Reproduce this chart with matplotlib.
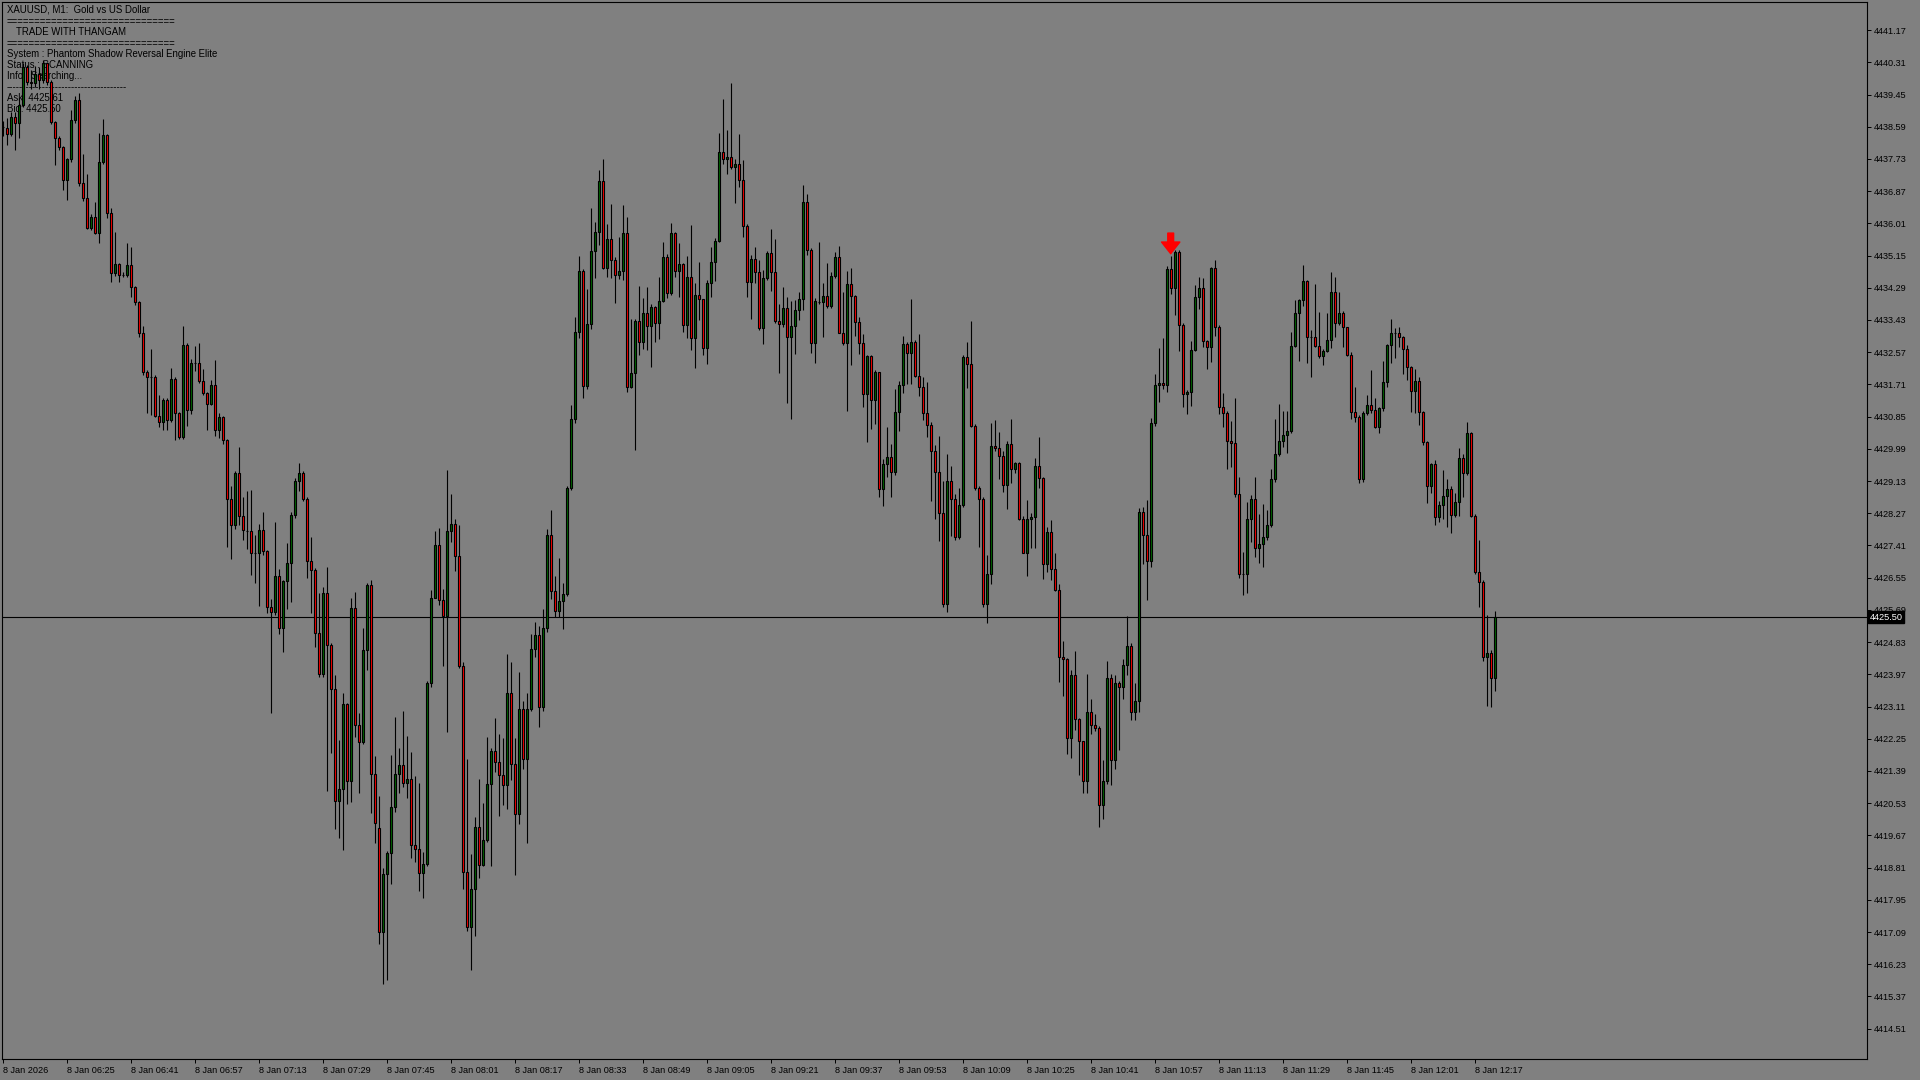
import matplotlib
matplotlib.use("Agg")
import matplotlib.pyplot as plt

plt.rcParams['font.family'] = ['Liberation Sans', 'DejaVu Sans']

# XAUUSD M1, 8 Jan 2026, one candle per minute from 06:09
opens = [4438.59, 4438.55, 4438.39, 4438.84, 4438.68, 4439.17, 4440.19, 4439.79, 4439.77, 4440.01,
         4439.84, 4440.28, 4439.79, 4438.72, 4438.28, 4438.05, 4437.17, 4437.72, 4438.77, 4439.30,
         4437.08, 4436.68, 4435.88, 4436.19, 4435.76, 4437.65, 4438.37, 4436.29, 4434.68, 4434.92,
         4434.63, 4434.63, 4434.90, 4434.30, 4433.92, 4433.07, 4432.05, 4431.91, 4431.91, 4430.87,
         4430.71, 4431.29, 4430.76, 4431.85, 4430.94, 4430.31, 4432.76, 4431.03, 4432.27, 4432.27,
         4431.81, 4431.49, 4431.20, 4431.69, 4430.49, 4430.83, 4430.22, 4428.64, 4427.96, 4429.34,
         4428.20, 4427.80, 4427.80, 4427.22, 4427.22, 4427.82, 4427.27, 4425.76, 4425.64, 4426.59,
         4425.20, 4426.46, 4426.93, 4428.22, 4429.13, 4429.34, 4428.64, 4427.00, 4426.75, 4425.08,
         4423.98, 4426.15, 4424.75, 4423.57, 4420.60, 4420.92, 4423.18, 4421.11, 4425.75, 4422.63,
         4422.16, 4424.61, 4426.35, 4421.32, 4419.87, 4417.09, 4418.65, 4419.19, 4420.42, 4421.32,
         4421.55, 4421.06, 4421.18, 4419.41, 4419.30, 4418.67, 4418.90, 4423.75, 4426.02, 4427.41,
         4425.95, 4425.52, 4427.79, 4427.98, 4427.14, 4424.19, 4418.70, 4417.23, 4418.24, 4419.89,
         4418.88, 4419.55, 4421.04, 4421.91, 4421.64, 4421.27, 4421.02, 4423.48, 4421.57, 4420.24,
         4423.04, 4421.71, 4423.04, 4424.65, 4425.02, 4423.10, 4425.20, 4427.69, 4426.19, 4425.67,
         4425.94, 4426.12, 4428.94, 4430.78, 4433.11, 4434.74, 4431.68, 4433.31, 4435.27, 4435.78,
         4437.13, 4434.83, 4435.59, 4435.02, 4434.62, 4434.75, 4435.76, 4431.65, 4432.01, 4433.39,
         4432.84, 4433.61, 4433.27, 4433.77, 4433.34, 4433.94, 4435.12, 4434.16, 4435.74, 4434.74,
         4434.92, 4433.29, 4434.57, 4432.94, 4434.09, 4433.98, 4432.67, 4434.41, 4434.97, 4435.54,
         4437.91, 4437.72, 4437.77, 4437.52, 4437.59, 4437.18, 4435.95, 4434.45, 4435.07, 4434.72,
         4433.21, 4434.54, 4435.23, 4434.72, 4433.41, 4433.31, 4433.74, 4432.97, 4433.28, 4433.70,
         4433.98, 4436.57, 4435.30, 4432.81, 4433.92, 4433.92, 4434.07, 4433.80, 4434.61, 4435.12,
         4433.09, 4432.82, 4434.39, 4434.08, 4433.38, 4432.81, 4431.45, 4432.48, 4431.29, 4432.03,
         4428.91, 4429.58, 4429.76, 4429.38, 4430.98, 4431.69, 4432.79, 4432.54, 4432.83, 4431.94,
         4431.65, 4430.95, 4430.64, 4429.94, 4429.38, 4428.28, 4425.84, 4429.13, 4428.64, 4427.63,
         4428.48, 4432.43, 4432.25, 4430.60, 4428.94, 4428.64, 4425.84, 4426.64, 4430.07, 4430.02,
         4429.80, 4429.02, 4430.11, 4429.44, 4429.62, 4428.13, 4427.22, 4428.11, 4428.16, 4429.53,
         4429.20, 4426.91, 4427.76, 4426.79, 4426.23, 4424.43, 4424.38, 4422.27, 4423.96, 4422.78,
         4422.18, 4421.13, 4422.96, 4422.61, 4422.54, 4420.48, 4421.13, 4423.87, 4421.69, 4423.75,
         4423.62, 4424.22, 4424.72, 4422.96, 4423.27, 4428.31, 4427.68, 4427.00, 4430.69, 4431.69,
         4431.75, 4431.69, 4434.78, 4434.28, 4435.25, 4433.30, 4431.45, 4431.50, 4432.64, 4434.04,
         4434.28, 4432.88, 4432.70, 4434.81, 4433.23, 4431.12, 4430.95, 4430.21, 4430.14, 4428.78,
         4426.64, 4426.66, 4428.11, 4428.64, 4427.33, 4427.45, 4427.63, 4427.95, 4429.18, 4429.85,
         4430.20, 4430.37, 4430.46, 4432.73, 4433.63, 4433.96, 4434.47, 4432.98, 4432.98, 4432.74,
         4432.48, 4432.60, 4432.89, 4434.17, 4433.34, 4433.63, 4433.23, 4432.49, 4430.98, 4430.83,
         4429.18, 4430.96, 4431.15, 4431.02, 4430.58, 4431.07, 4431.77, 4432.75, 4433.09, 4433.09,
         4432.97, 4432.65, 4432.18, 4431.54, 4431.81, 4430.98, 4430.18, 4429.00, 4429.58, 4428.16,
         4428.49, 4428.73, 4428.92, 4428.22, 4428.58, 4429.74, 4429.35, 4430.40, 4428.20, 4426.69,
         4426.43, 4424.42, 4424.53, 4423.86]
highs = [4438.75, 4438.81, 4438.99, 4438.99, 4439.35, 4440.28, 4440.25, 4440.10, 4440.20, 4440.19,
         4440.37, 4440.32, 4439.85, 4438.75, 4438.33, 4438.08, 4437.75, 4439.03, 4439.41, 4439.50,
         4437.86, 4437.33, 4436.25, 4436.59, 4438.41, 4438.79, 4438.40, 4436.41, 4435.79, 4434.95,
         4434.70, 4435.49, 4435.39, 4434.33, 4433.95, 4433.27, 4432.10, 4432.65, 4431.95, 4431.43,
         4431.35, 4431.35, 4432.14, 4431.90, 4430.98, 4433.27, 4432.82, 4432.38, 4432.73, 4432.82,
         4432.11, 4431.52, 4431.83, 4432.36, 4430.94, 4430.88, 4430.25, 4429.00, 4429.40, 4430.05,
         4428.71, 4428.87, 4428.89, 4427.69, 4427.98, 4428.31, 4427.30, 4425.97, 4428.04, 4426.77,
         4426.50, 4427.47, 4428.30, 4429.20, 4429.60, 4429.40, 4428.70, 4427.63, 4426.80, 4426.13,
         4426.31, 4426.84, 4424.80, 4423.96, 4422.22, 4423.48, 4423.20, 4426.01, 4426.17, 4422.93,
         4425.20, 4426.40, 4426.49, 4421.80, 4420.72, 4418.79, 4419.25, 4421.82, 4422.83, 4421.99,
         4423.00, 4422.33, 4421.90, 4421.25, 4421.06, 4419.22, 4423.80, 4426.21, 4427.79, 4427.89,
         4426.26, 4429.42, 4428.78, 4428.12, 4427.96, 4424.30, 4421.70, 4419.16, 4420.17, 4421.18,
         4420.53, 4422.31, 4422.00, 4422.81, 4422.38, 4422.28, 4424.52, 4424.29, 4422.26, 4424.02,
         4423.25, 4423.46, 4425.06, 4425.37, 4425.25, 4425.72, 4427.84, 4428.35, 4426.59, 4427.08,
         4426.40, 4429.00, 4431.15, 4433.52, 4435.15, 4434.80, 4434.25, 4436.42, 4436.05, 4437.44,
         4437.72, 4436.00, 4436.54, 4435.10, 4435.64, 4436.49, 4436.18, 4433.45, 4433.45, 4434.34,
         4434.01, 4434.30, 4433.87, 4433.81, 4434.57, 4435.52, 4435.20, 4436.01, 4435.78, 4435.48,
         4434.95, 4435.14, 4435.97, 4434.41, 4434.97, 4434.00, 4434.50, 4435.39, 4435.63, 4438.43,
         4439.33, 4438.50, 4439.75, 4437.72, 4438.39, 4437.70, 4436.00, 4435.16, 4435.39, 4435.03,
         4434.76, 4435.28, 4435.86, 4435.58, 4433.86, 4434.30, 4434.04, 4433.94, 4433.96, 4434.18,
         4437.03, 4436.79, 4435.35, 4434.01, 4435.50, 4434.41, 4434.94, 4434.70, 4435.25, 4435.40,
         4434.19, 4434.75, 4434.81, 4434.10, 4433.50, 4433.05, 4432.50, 4432.50, 4432.10, 4432.05,
         4429.71, 4430.58, 4430.12, 4431.59, 4431.80, 4433.00, 4432.85, 4433.99, 4432.90, 4433.06,
         4431.92, 4431.77, 4430.70, 4430.09, 4430.33, 4429.14, 4429.85, 4429.53, 4428.78, 4428.95,
         4432.49, 4432.85, 4433.40, 4430.65, 4429.00, 4428.70, 4427.15, 4430.69, 4430.76, 4430.45,
         4429.94, 4430.20, 4430.78, 4429.65, 4429.65, 4428.20, 4428.62, 4428.29, 4429.74, 4430.30,
         4429.25, 4427.90, 4428.08, 4427.21, 4426.39, 4424.86, 4424.40, 4424.09, 4424.59, 4422.80,
         4422.20, 4423.98, 4423.31, 4422.90, 4422.60, 4421.69, 4424.33, 4423.97, 4423.96, 4423.80,
         4424.38, 4425.54, 4424.80, 4423.73, 4428.41, 4428.44, 4428.62, 4430.82, 4431.98, 4432.67,
         4432.95, 4434.88, 4435.15, 4435.30, 4435.30, 4433.35, 4431.55, 4432.88, 4434.36, 4434.57,
         4434.54, 4432.90, 4434.85, 4435.04, 4433.30, 4431.47, 4431.00, 4430.74, 4431.34, 4429.23,
         4427.24, 4428.58, 4428.76, 4429.25, 4428.25, 4428.53, 4428.37, 4429.45, 4430.78, 4431.19,
         4430.99, 4430.99, 4433.12, 4433.96, 4434.00, 4434.90, 4434.50, 4433.16, 4434.39, 4433.65,
         4432.65, 4433.62, 4434.71, 4434.57, 4434.18, 4433.66, 4433.25, 4432.58, 4431.63, 4430.90,
         4431.00, 4431.44, 4432.09, 4431.34, 4431.10, 4432.34, 4432.80, 4433.47, 4433.21, 4433.25,
         4433.00, 4432.76, 4432.20, 4432.11, 4431.90, 4431.00, 4430.20, 4429.60, 4429.69, 4428.60,
         4429.42, 4429.18, 4429.00, 4428.80, 4430.00, 4429.85, 4430.71, 4430.45, 4428.25, 4427.56,
         4426.50, 4425.55, 4424.62, 4425.67]
lows = [4438.35, 4438.10, 4438.34, 4437.97, 4438.28, 4439.12, 4439.70, 4439.61, 4439.65, 4439.61,
        4439.75, 4439.70, 4438.65, 4437.57, 4437.98, 4436.90, 4436.63, 4437.65, 4438.70, 4437.00,
        4436.60, 4435.85, 4435.82, 4435.72, 4435.49, 4437.60, 4436.14, 4434.45, 4434.60, 4434.45,
        4434.58, 4434.58, 4434.05, 4433.83, 4432.98, 4431.96, 4430.94, 4430.89, 4430.85, 4430.58,
        4430.49, 4430.49, 4430.70, 4430.22, 4430.25, 4430.25, 4430.60, 4430.92, 4432.08, 4431.74,
        4431.43, 4430.49, 4431.15, 4430.33, 4430.27, 4430.12, 4427.38, 4427.04, 4427.85, 4427.96,
        4427.56, 4427.31, 4426.62, 4426.41, 4425.79, 4427.15, 4425.61, 4422.93, 4425.55, 4425.06,
        4424.57, 4425.72, 4425.91, 4428.15, 4428.87, 4428.60, 4426.53, 4425.62, 4424.71, 4423.90,
        4423.90, 4420.86, 4421.87, 4419.85, 4419.60, 4419.29, 4420.50, 4420.55, 4422.31, 4420.81,
        4422.10, 4424.09, 4420.27, 4419.48, 4416.77, 4415.71, 4415.82, 4418.36, 4420.30, 4420.81,
        4420.97, 4420.67, 4419.07, 4418.95, 4418.19, 4418.01, 4418.85, 4423.62, 4426.00, 4425.82,
        4424.18, 4422.42, 4427.49, 4426.72, 4424.15, 4418.24, 4417.11, 4416.08, 4416.99, 4418.53,
        4418.85, 4419.50, 4418.84, 4421.36, 4420.20, 4420.47, 4420.38, 4421.16, 4418.60, 4419.97,
        4421.44, 4419.48, 4423.00, 4424.42, 4422.57, 4423.00, 4425.10, 4425.97, 4425.49, 4425.49,
        4425.18, 4426.05, 4428.90, 4430.69, 4432.96, 4431.35, 4431.60, 4433.20, 4434.56, 4435.44,
        4434.80, 4434.58, 4434.56, 4433.88, 4434.53, 4434.50, 4431.52, 4431.61, 4429.96, 4432.50,
        4432.66, 4432.63, 4432.18, 4432.85, 4432.91, 4433.90, 4434.02, 4434.10, 4434.57, 4434.05,
        4433.12, 4432.96, 4432.63, 4432.14, 4433.43, 4432.49, 4432.25, 4434.05, 4434.48, 4435.50,
        4437.59, 4437.34, 4437.45, 4436.56, 4436.99, 4435.65, 4434.05, 4433.47, 4434.41, 4433.16,
        4432.79, 4434.50, 4434.21, 4433.35, 4432.02, 4433.25, 4431.22, 4430.78, 4432.51, 4433.43,
        4433.70, 4435.16, 4432.54, 4432.27, 4433.87, 4432.98, 4433.74, 4433.74, 4434.54, 4433.07,
        4432.75, 4431.01, 4432.23, 4432.99, 4432.52, 4431.10, 4430.18, 4430.52, 4430.65, 4428.70,
        4428.47, 4429.25, 4428.71, 4429.30, 4430.46, 4431.47, 4431.71, 4431.71, 4431.90, 4431.41,
        4430.76, 4430.31, 4428.61, 4428.13, 4427.54, 4425.78, 4425.64, 4427.66, 4427.55, 4427.58,
        4428.44, 4431.62, 4430.56, 4428.90, 4427.36, 4425.78, 4425.35, 4426.38, 4429.94, 4429.18,
        4428.85, 4428.38, 4429.07, 4429.35, 4428.09, 4427.20, 4426.60, 4427.33, 4427.33, 4428.94,
        4426.51, 4426.71, 4426.49, 4426.20, 4423.77, 4423.38, 4421.85, 4421.74, 4422.48, 4421.27,
        4420.79, 4420.79, 4422.38, 4422.45, 4419.89, 4420.11, 4421.05, 4421.02, 4421.45, 4421.95,
        4423.30, 4423.96, 4422.75, 4422.75, 4422.96, 4426.91, 4425.96, 4426.83, 4430.60, 4431.24,
        4431.60, 4431.51, 4434.12, 4433.56, 4432.61, 4431.12, 4430.93, 4431.14, 4432.60, 4433.72,
        4432.72, 4432.11, 4432.32, 4433.01, 4430.91, 4430.56, 4429.45, 4429.50, 4428.70, 4426.53,
        4426.09, 4426.13, 4427.51, 4427.11, 4426.93, 4426.84, 4427.55, 4427.90, 4429.10, 4429.80,
        4430.03, 4429.89, 4430.40, 4432.70, 4432.34, 4433.80, 4432.27, 4431.90, 4432.70, 4432.41,
        4432.23, 4432.57, 4432.67, 4432.98, 4433.30, 4432.70, 4432.47, 4430.78, 4430.71, 4429.09,
        4429.10, 4430.90, 4430.95, 4430.55, 4430.42, 4431.00, 4431.63, 4432.27, 4432.41, 4432.72,
        4431.99, 4431.83, 4430.98, 4430.95, 4430.63, 4430.09, 4428.54, 4428.80, 4427.96, 4428.05,
        4428.13, 4427.91, 4427.73, 4428.18, 4428.20, 4428.70, 4429.30, 4428.18, 4426.66, 4425.76,
        4424.33, 4423.13, 4423.09, 4423.53]
closes = [4438.59, 4438.39, 4438.84, 4438.68, 4439.17, 4440.19, 4439.79, 4439.77, 4440.01, 4439.84,
          4440.28, 4439.79, 4438.72, 4438.28, 4438.05, 4437.17, 4437.72, 4438.77, 4439.30, 4437.08,
          4436.68, 4435.88, 4436.19, 4435.76, 4437.65, 4438.37, 4436.29, 4434.68, 4434.92, 4434.63,
          4434.63, 4434.90, 4434.30, 4433.92, 4433.07, 4432.05, 4431.90, 4431.91, 4430.87, 4430.71,
          4431.29, 4430.76, 4431.85, 4430.94, 4430.31, 4432.76, 4431.03, 4432.27, 4432.27, 4431.81,
          4431.49, 4431.20, 4431.69, 4430.49, 4430.83, 4430.22, 4428.64, 4427.96, 4429.34, 4428.20,
          4427.82, 4427.80, 4427.22, 4427.22, 4427.82, 4427.27, 4425.76, 4425.64, 4426.59, 4425.20,
          4426.46, 4426.93, 4428.22, 4429.13, 4429.34, 4428.64, 4427.00, 4426.75, 4425.08, 4423.98,
          4426.15, 4424.75, 4423.57, 4420.60, 4420.92, 4423.18, 4421.11, 4425.75, 4422.63, 4422.16,
          4424.61, 4426.35, 4421.32, 4420.00, 4417.09, 4418.65, 4419.19, 4420.42, 4421.32, 4421.55,
          4421.06, 4421.18, 4419.41, 4419.30, 4418.67, 4418.90, 4423.75, 4426.02, 4427.41, 4425.95,
          4425.52, 4427.79, 4427.98, 4427.14, 4424.19, 4418.70, 4417.23, 4418.24, 4419.89, 4418.88,
          4419.55, 4421.04, 4421.91, 4421.64, 4421.27, 4421.02, 4423.48, 4421.57, 4420.24, 4423.04,
          4421.71, 4423.04, 4424.65, 4425.02, 4423.10, 4425.20, 4427.69, 4426.19, 4425.67, 4425.94,
          4426.12, 4428.94, 4430.78, 4433.11, 4434.74, 4431.68, 4433.31, 4435.27, 4435.78, 4437.13,
          4434.83, 4435.59, 4435.02, 4434.62, 4434.75, 4435.76, 4431.65, 4432.01, 4433.39, 4432.84,
          4433.61, 4433.27, 4433.77, 4433.34, 4433.94, 4435.12, 4434.16, 4435.74, 4434.74, 4434.92,
          4433.29, 4434.57, 4432.94, 4434.09, 4433.98, 4432.67, 4434.41, 4434.97, 4435.54, 4437.91,
          4437.72, 4437.77, 4437.52, 4437.59, 4437.18, 4435.95, 4434.45, 4435.07, 4434.72, 4433.21,
          4434.54, 4435.23, 4434.72, 4433.41, 4433.31, 4433.74, 4432.97, 4433.28, 4433.70, 4433.98,
          4436.57, 4435.30, 4432.81, 4433.94, 4433.92, 4434.07, 4433.80, 4434.61, 4435.12, 4433.09,
          4432.82, 4434.39, 4434.08, 4433.38, 4432.81, 4431.45, 4432.48, 4431.29, 4432.03, 4428.91,
          4429.58, 4429.76, 4429.38, 4430.98, 4431.69, 4432.79, 4432.54, 4432.83, 4431.94, 4431.65,
          4430.95, 4430.64, 4429.94, 4429.38, 4428.28, 4425.84, 4429.13, 4428.64, 4427.63, 4428.48,
          4432.43, 4432.25, 4430.60, 4428.94, 4428.64, 4425.84, 4426.64, 4430.07, 4430.02, 4429.80,
          4429.02, 4430.11, 4429.44, 4429.62, 4428.13, 4427.22, 4428.11, 4428.16, 4429.53, 4429.20,
          4426.91, 4427.76, 4426.79, 4426.23, 4424.43, 4424.38, 4422.27, 4423.96, 4422.78, 4422.18,
          4421.13, 4422.96, 4422.61, 4422.54, 4420.48, 4421.13, 4423.87, 4421.69, 4423.75, 4423.62,
          4424.22, 4424.72, 4422.96, 4423.27, 4428.31, 4427.68, 4427.00, 4430.69, 4431.69, 4431.75,
          4431.69, 4434.78, 4434.28, 4435.25, 4433.30, 4431.45, 4431.50, 4432.64, 4434.04, 4434.28,
          4432.88, 4432.70, 4434.81, 4433.23, 4431.12, 4430.95, 4430.21, 4430.14, 4428.78, 4426.64,
          4426.66, 4428.11, 4428.64, 4427.33, 4427.45, 4427.63, 4427.95, 4429.18, 4429.85, 4430.20,
          4430.37, 4430.46, 4432.73, 4433.63, 4433.96, 4434.47, 4432.98, 4432.98, 4432.74, 4432.48,
          4432.60, 4432.89, 4434.17, 4433.34, 4433.63, 4433.23, 4432.49, 4430.98, 4430.83, 4429.18,
          4430.96, 4431.15, 4431.02, 4430.58, 4431.07, 4431.77, 4432.75, 4433.07, 4433.09, 4432.97,
          4432.65, 4432.18, 4431.54, 4431.81, 4430.98, 4430.18, 4429.00, 4429.58, 4428.16, 4428.49,
          4428.73, 4428.92, 4428.22, 4428.58, 4429.74, 4429.35, 4430.40, 4428.20, 4426.69, 4426.43,
          4424.42, 4424.53, 4423.86, 4425.51]

price_ticks = [4441.17, 4440.31, 4439.45, 4438.59, 4437.73, 4436.87, 4436.01, 4435.15,
               4434.29, 4433.43, 4432.57, 4431.71, 4430.85, 4429.99, 4429.13, 4428.27,
               4427.41, 4426.55, 4425.69, 4424.83, 4423.97, 4423.11, 4422.25, 4421.39,
               4420.53, 4419.67, 4418.81, 4417.95, 4417.09, 4416.23, 4415.37, 4414.51]
time_tick_idx = [0, 16, 32, 48, 64, 80, 96, 112, 128, 144, 160, 176,
                 192, 208, 224, 240, 256, 272, 288, 304, 320, 336, 352, 368]
time_labels = ["8 Jan 2026", "8 Jan 06:25", "8 Jan 06:41", "8 Jan 06:57", "8 Jan 07:13",
               "8 Jan 07:29", "8 Jan 07:45", "8 Jan 08:01", "8 Jan 08:17", "8 Jan 08:33",
               "8 Jan 08:49", "8 Jan 09:05", "8 Jan 09:21", "8 Jan 09:37", "8 Jan 09:53",
               "8 Jan 10:09", "8 Jan 10:25", "8 Jan 10:41", "8 Jan 10:57", "8 Jan 11:13",
               "8 Jan 11:29", "8 Jan 11:45", "8 Jan 12:01", "8 Jan 12:17"]
bid = 4425.50
ask = 4425.61
signal_idx = 292
signal_price = 4435.20

info_lines = ["XAUUSD, M1:  Gold vs US Dollar",
              "==============================",
              "TRADE WITH THANGAM",
              "==============================",
              "System : Phantom Shadow Reversal Engine Elite",
              "Status : SCANNING",
              "Info : Searching...",
              "-------------------------------------",
              "Ask: %.2f" % ask,
              "Bid: %.2f" % bid]

bg = "#808080"
up_col = "#006400"
dn_col = "#ff0000"

W, H = 1920, 1080
fig = plt.figure(figsize=(19.2, 10.8), dpi=100, facecolor=bg)
ax = fig.add_axes([2 / W, 21 / H, 1865.3 / W, 1057 / H], facecolor=bg)

x = list(range(len(closes)))
body_low = [min(o, c) for o, c in zip(opens, closes)]
body_h = [abs(c - o) for o, c in zip(opens, closes)]
colors = [up_col if c >= o else dn_col for o, c in zip(opens, closes)]

ax.vlines(x, lows, highs, color="black", linewidth=0.8, zorder=2)
ax.bar(x, body_h, bottom=body_low, width=0.5, color=colors,
       edgecolor="black", linewidth=0.8, zorder=3)

ax.axhline(bid, color="black", linewidth=0.8, zorder=1.5)

# sell arrow
ax.annotate("", xy=(signal_idx, signal_price), xytext=(signal_idx, signal_price + 0.55),
            arrowprops=dict(arrowstyle="simple,head_length=0.7,head_width=1.1,tail_width=0.35",
                            color="red", mutation_scale=12, shrinkA=0, shrinkB=0),
            zorder=5)

ax.set_xlim(-0.175, 466.15)
ax.set_ylim(4413.70, 4441.92)

ax.yaxis.tick_right()
ax.set_yticks(price_ticks)
ax.set_yticklabels(["%.2f" % p for p in price_ticks])
ax.set_xticks(time_tick_idx)
ax.set_xticklabels(time_labels, ha="left")
ax.tick_params(axis="both", direction="out", length=3, width=0.7, colors="black",
               labelsize=6.6, pad=1.5)
ax.tick_params(axis="x", pad=2)

for sp in ax.spines.values():
    sp.set_color("black")
    sp.set_linewidth(0.8)

ax.text(1.0012, bid, "%.2f" % bid, transform=ax.get_yaxis_transform(), ha="left",
        va="center", color="white", fontsize=6.6, zorder=10, clip_on=False,
        bbox=dict(facecolor="black", edgecolor="black", pad=0.8))

baselines = [12.7, 25, 35, 47, 56.7, 67.5, 79, 90.5, 100.7, 111.7]
xs = [6.7, 6.7, 16, 6.7, 6.7, 6.7, 6.7, 6.7, 6.7, 6.7]
for s, xp, yp in zip(info_lines, xs, baselines):
    ax.text(xp / W, 1 - yp / H, s, transform=fig.transFigure, fontsize=6.9,
            color="black", ha="left", va="baseline", zorder=1)

fig.savefig("out.png", dpi=100, facecolor=bg)
